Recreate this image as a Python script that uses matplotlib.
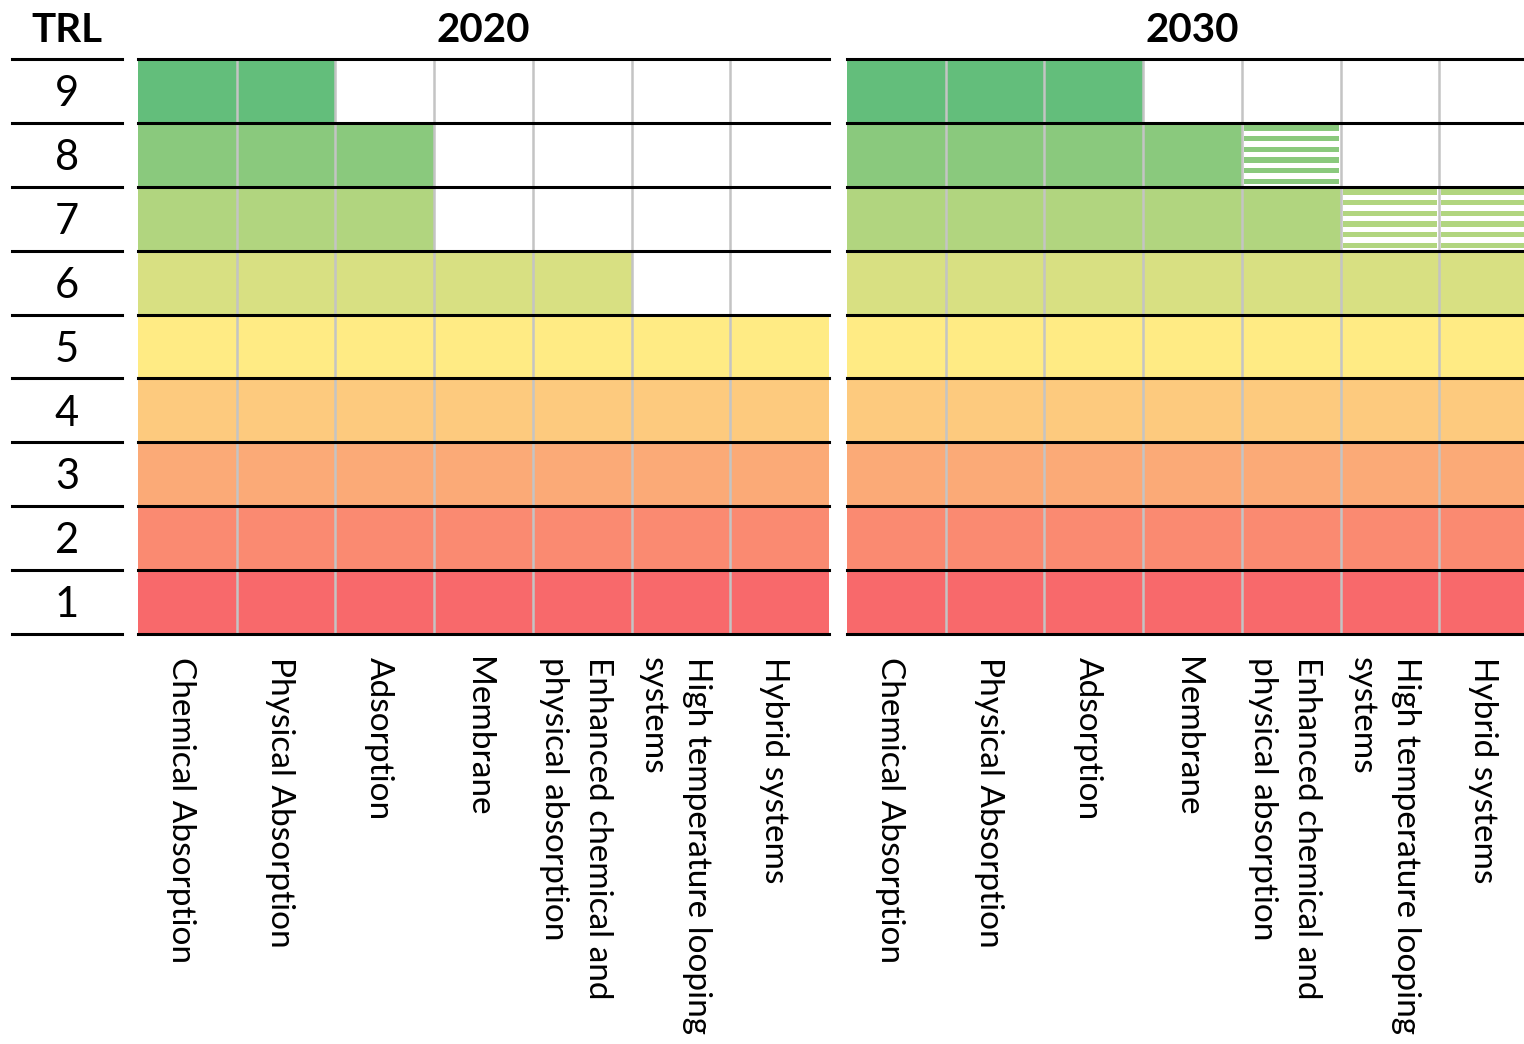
import numpy as np
import matplotlib.pyplot as plt
from matplotlib.patches import Rectangle
from matplotlib.transforms import blended_transform_factory

plt.rcParams['font.family'] = ['Lato', 'DejaVu Sans']

# Данные
trl_levels = [1, 2, 3, 4, 5, 6, 7, 8, 9]
row_colors = ['#F8696B', '#FA8A71', '#FBAA77', '#FDCA7E', '#FFEB84',
              '#D8E082', '#B1D57F', '#8AC97D', '#63BE7B']
technologies = ['Chemical Absorption', 'Physical Absorption', 'Adsorption',
                'Membrane', 'Enhanced chemical and\nphysical absorption',
                'High temperature looping\nsystems', 'Hybrid systems']
years = ['2020', '2030']
# достигнутый уровень TRL
trl_2020 = [9, 9, 8, 6, 6, 5, 5]
trl_2030 = [9, 9, 9, 8, 7, 6, 6]
# ожидаемый уровень (штриховка)
trl_2030_target = [9, 9, 9, 8, 8, 7, 7]
trl_2020_target = trl_2020

W, H = 1524, 1044
fig = plt.figure(figsize=(W / 100, H / 100), dpi=100)

top_px, bot_px = 59, 634


def box(x0, x1):
    return [x0 / W, (H - bot_px) / H, (x1 - x0) / W, (bot_px - top_px) / H]


# колонка TRL
ax_t = fig.add_axes(box(12, 122))
ax_t.set_xlim(0, 1)
ax_t.set_ylim(0, 9)
ax_t.axis('off')
for y in range(10):
    ax_t.axhline(y, color='black', lw=2.2, clip_on=False)
for r in trl_levels:
    ax_t.text(0.5, r - 0.55, str(r), ha='center', va='center', fontsize=30)
ax_t.text(0.5, 1 + 28 / 575, 'TRL', ha='center', va='center',
          fontsize=29, fontweight='bold', transform=ax_t.transAxes)


def draw_panel(ax, year, levels, targets):
    n = len(technologies)
    ax.set_xlim(0, n)
    ax.set_ylim(0, 9)
    ax.axis('off')
    for i in range(n):
        for r in trl_levels:
            c = row_colors[r - 1]
            if r <= levels[i]:
                ax.add_patch(Rectangle((i, r - 1), 1, 1, color=c, lw=0))
            elif r <= targets[i]:
                # полосы
                k = 6
                step = 1 / k
                for s in range(k):
                    y0 = r - step * s - 0.04
                    ax.add_patch(Rectangle((i + 0.02, y0 - step * 0.5), 0.96, step * 0.5,
                                           color=c, lw=0))
    for x in range(1, n):
        ax.axvline(x, color='#C4C4C4', lw=1.8)
    for y in range(10):
        ax.axhline(y, color='black', lw=2.2, clip_on=False)
    ax.text(0.5, 1 + 28 / 575, year, ha='center', va='center',
            fontsize=29, fontweight='bold', transform=ax.transAxes)
    tr = blended_transform_factory(ax.transData, ax.transAxes)
    for i, name in enumerate(technologies):
        ax.text(i + 0.44, -23 / 575, name, rotation=-90, ha='center', va='top',
                multialignment='left', fontsize=24, linespacing=1.6,
                transform=tr)


ax1 = fig.add_axes(box(138, 829))
draw_panel(ax1, years[0], trl_2020, trl_2020_target)
ax2 = fig.add_axes(box(847, 847 + 691))
draw_panel(ax2, years[1], trl_2030, trl_2030_target)

fig.savefig('out.png', dpi=100)
